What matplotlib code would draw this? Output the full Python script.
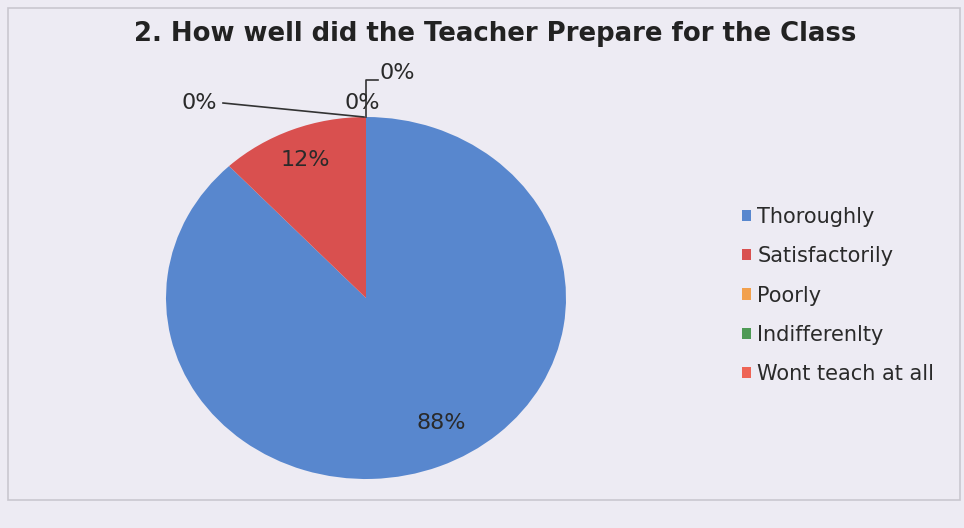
import matplotlib
matplotlib.use("Agg")
import matplotlib.pyplot as plt
from matplotlib.patches import Rectangle, Patch

categories = ["Thoroughly", "Satisfactorily", "Poorly", "Indifferenlty", "Wont teach at all"]
values = [88, 12, 0, 0, 0]
colors = ["#5887CE", "#D9504F", "#F2A04C", "#4E9A55", "#EE6455"]
title = "2. How well did the Teacher Prepare for the Class"

W, H = 964, 528
fig = plt.figure(figsize=(W / 100, H / 100), dpi=100)
bg = "#EDEBF3"
fig.patch.set_facecolor(bg)

# chart frame
frame = Rectangle((8 / W, 28 / H), 952 / W, 492 / H, transform=fig.transFigure,
                  fill=False, edgecolor="#C9C7CF", linewidth=1.2)
fig.add_artist(frame)

cx, cy, rx, ry = 366, 528 - 298, 200, 181
ax = fig.add_axes([(cx - rx) / W, (cy - ry) / H, 2 * rx / W, 2 * ry / H])
ax.set_facecolor("none")
wedges, _ = ax.pie(values, colors=colors, startangle=90, counterclock=False,
                   radius=1.0, wedgeprops=dict(linewidth=0))
ax.set_xlim(-1, 1)
ax.set_ylim(-1, 1)
ax.set_aspect("auto")
ax.axis("off")

fs = 16
fam = "DejaVu Sans"
tc = "#2A2A2A"

def pct(v):
    return f"{v}%"

def ftxt(x, y, s, **kw):
    fig.text(x / W, 1 - y / H, s, ha="center", va="center", fontsize=fs,
             family=fam, color=tc, **kw)

ftxt(441, 423, pct(values[0]))
ftxt(305, 160, pct(values[1]))
ftxt(199, 103, pct(values[2]))
ftxt(362, 103, pct(values[3]))
ftxt(397, 73, pct(values[4]))

# leader lines
fig.add_artist(plt.Line2D([223 / W, 364 / W], [1 - 103 / H, 1 - 117 / H],
                          transform=fig.transFigure, color="#333333", lw=1.2))
fig.add_artist(plt.Line2D([366 / W, 366 / W, 378 / W], [1 - 117 / H, 1 - 80 / H, 1 - 80 / H],
                          transform=fig.transFigure, color="#333333", lw=1.2))

fig.text(495 / W, 1 - 34 / H, title, ha="center", va="center", fontsize=18.7,
         fontweight="bold", family=fam, color="#222222")

handles = [Patch(facecolor=c, edgecolor="none") for c in colors]
leg = fig.legend(handles, categories, loc="upper left",
                 bbox_to_anchor=(723 / W, 1 - 188 / H), frameon=False,
                 prop=dict(family=fam, size=15), handlelength=0.45, handleheight=0.45,
                 handletextpad=0.3, labelspacing=0.93, labelcolor=tc)

fig.savefig("out.png", dpi=100, facecolor=bg)
